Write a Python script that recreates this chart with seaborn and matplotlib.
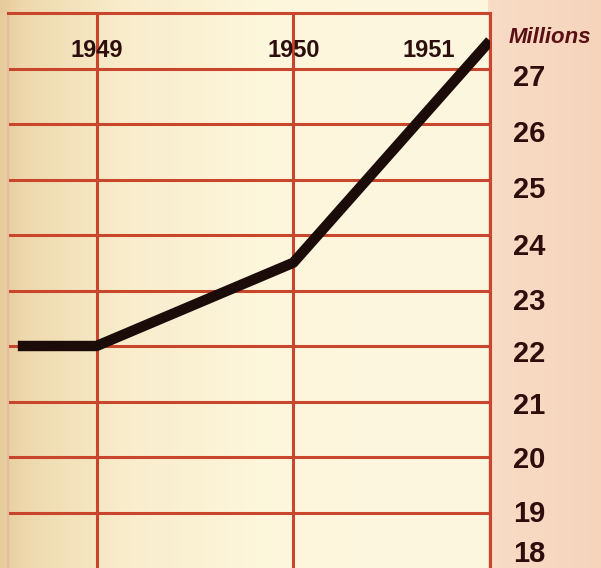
import numpy as np
import pandas as pd
import matplotlib
matplotlib.use("Agg")
import matplotlib.pyplot as plt
import matplotlib.transforms as mtransforms
from matplotlib.colors import LinearSegmentedColormap
import seaborn as sns

# data (millions)
years = [1948.6, 1949.0, 1950.0, 1951.0]
millions = [22.0, 22.0, 23.5, 27.5]
year_labels = ["1949", "1950", "1951"]
year_label_x = [1949.0, 1950.0, 1950.69]
y_values = [27, 26, 25, 24, 23, 22, 21, 20, 19, 18]
# how far (px) each number sits below its grid line
label_nudge = [10, 10, 11, 12, 11, 8, 5, 3, 2, -14]

df = pd.DataFrame({"year": years, "millions": millions})

sns.set_style("white")
plt.rcParams["font.family"] = ["Liberation Sans", "DejaVu Sans"]

RED = "#c9452c"
INK = "#2e0d0d"

fig = plt.figure(figsize=(6.01, 5.68), dpi=100)

# paper background: tan at the left edge, cream in the middle, pink on the right
bg = fig.add_axes([0, 0, 1, 1])
paper = LinearSegmentedColormap.from_list(
    "paper",
    [(0.0, "#e6cc9c"), (0.04, "#eed9ad"), (0.2, "#f8eccb"), (0.45, "#fdf7dd"),
     (0.812, "#fdf6e0"), (0.816, "#f8dcc6"), (1.0, "#f6d4bc")])
grad = np.linspace(0, 1, 601).reshape(1, -1)
bg.imshow(grad, cmap=paper, aspect="auto", extent=[0, 1, 0, 1])
bg.axis("off")

ax = fig.add_axes([8 / 601, 0, 482 / 601, 555 / 568])
ax.patch.set_alpha(0)
ax.set_xlim(1948.55, 1951.0)
ax.set_ylim(18, 28)

# red ruling
for v in range(19, 28):
    ax.axhline(v, color=RED, lw=2.2, zorder=1)
for yr in [1949, 1950]:
    ax.axvline(yr, color=RED, lw=2.2, zorder=1)

sns.lineplot(data=df, x="year", y="millions", ax=ax, color="#1b0b09",
             lw=7.5, zorder=3, solid_capstyle="butt", solid_joinstyle="round")

for lab, x in zip(year_labels, year_label_x):
    ax.text(x, 27.33, lab, ha="center", va="center", fontsize=17,
            fontweight="bold", color=INK, zorder=2)

# millions scale on the right
trans = mtransforms.blended_transform_factory(ax.transAxes, ax.transData)
for v, n in zip(y_values, label_nudge):
    t = mtransforms.offset_copy(trans, fig=fig, y=-n, units="dots")
    ax.text(1.048, v, str(v), transform=t, ha="left", va="center",
            fontsize=21, fontweight="bold", color=INK, clip_on=False)

ax.text(1.125, 27.55, "Millions", transform=trans, ha="center", va="center",
        fontsize=16, fontweight="bold", style="italic", color="#5a0f14",
        clip_on=False)

ax.set_xticks([])
ax.set_yticks([])
ax.set_xlabel("")
ax.set_ylabel("")
for side in ["top", "right"]:
    ax.spines[side].set_color(RED)
    ax.spines[side].set_linewidth(2.2)
ax.spines["left"].set_color("#e4bca4")
ax.spines["left"].set_linewidth(1.5)
ax.spines["bottom"].set_visible(False)

fig.savefig("out.png", dpi=100)
